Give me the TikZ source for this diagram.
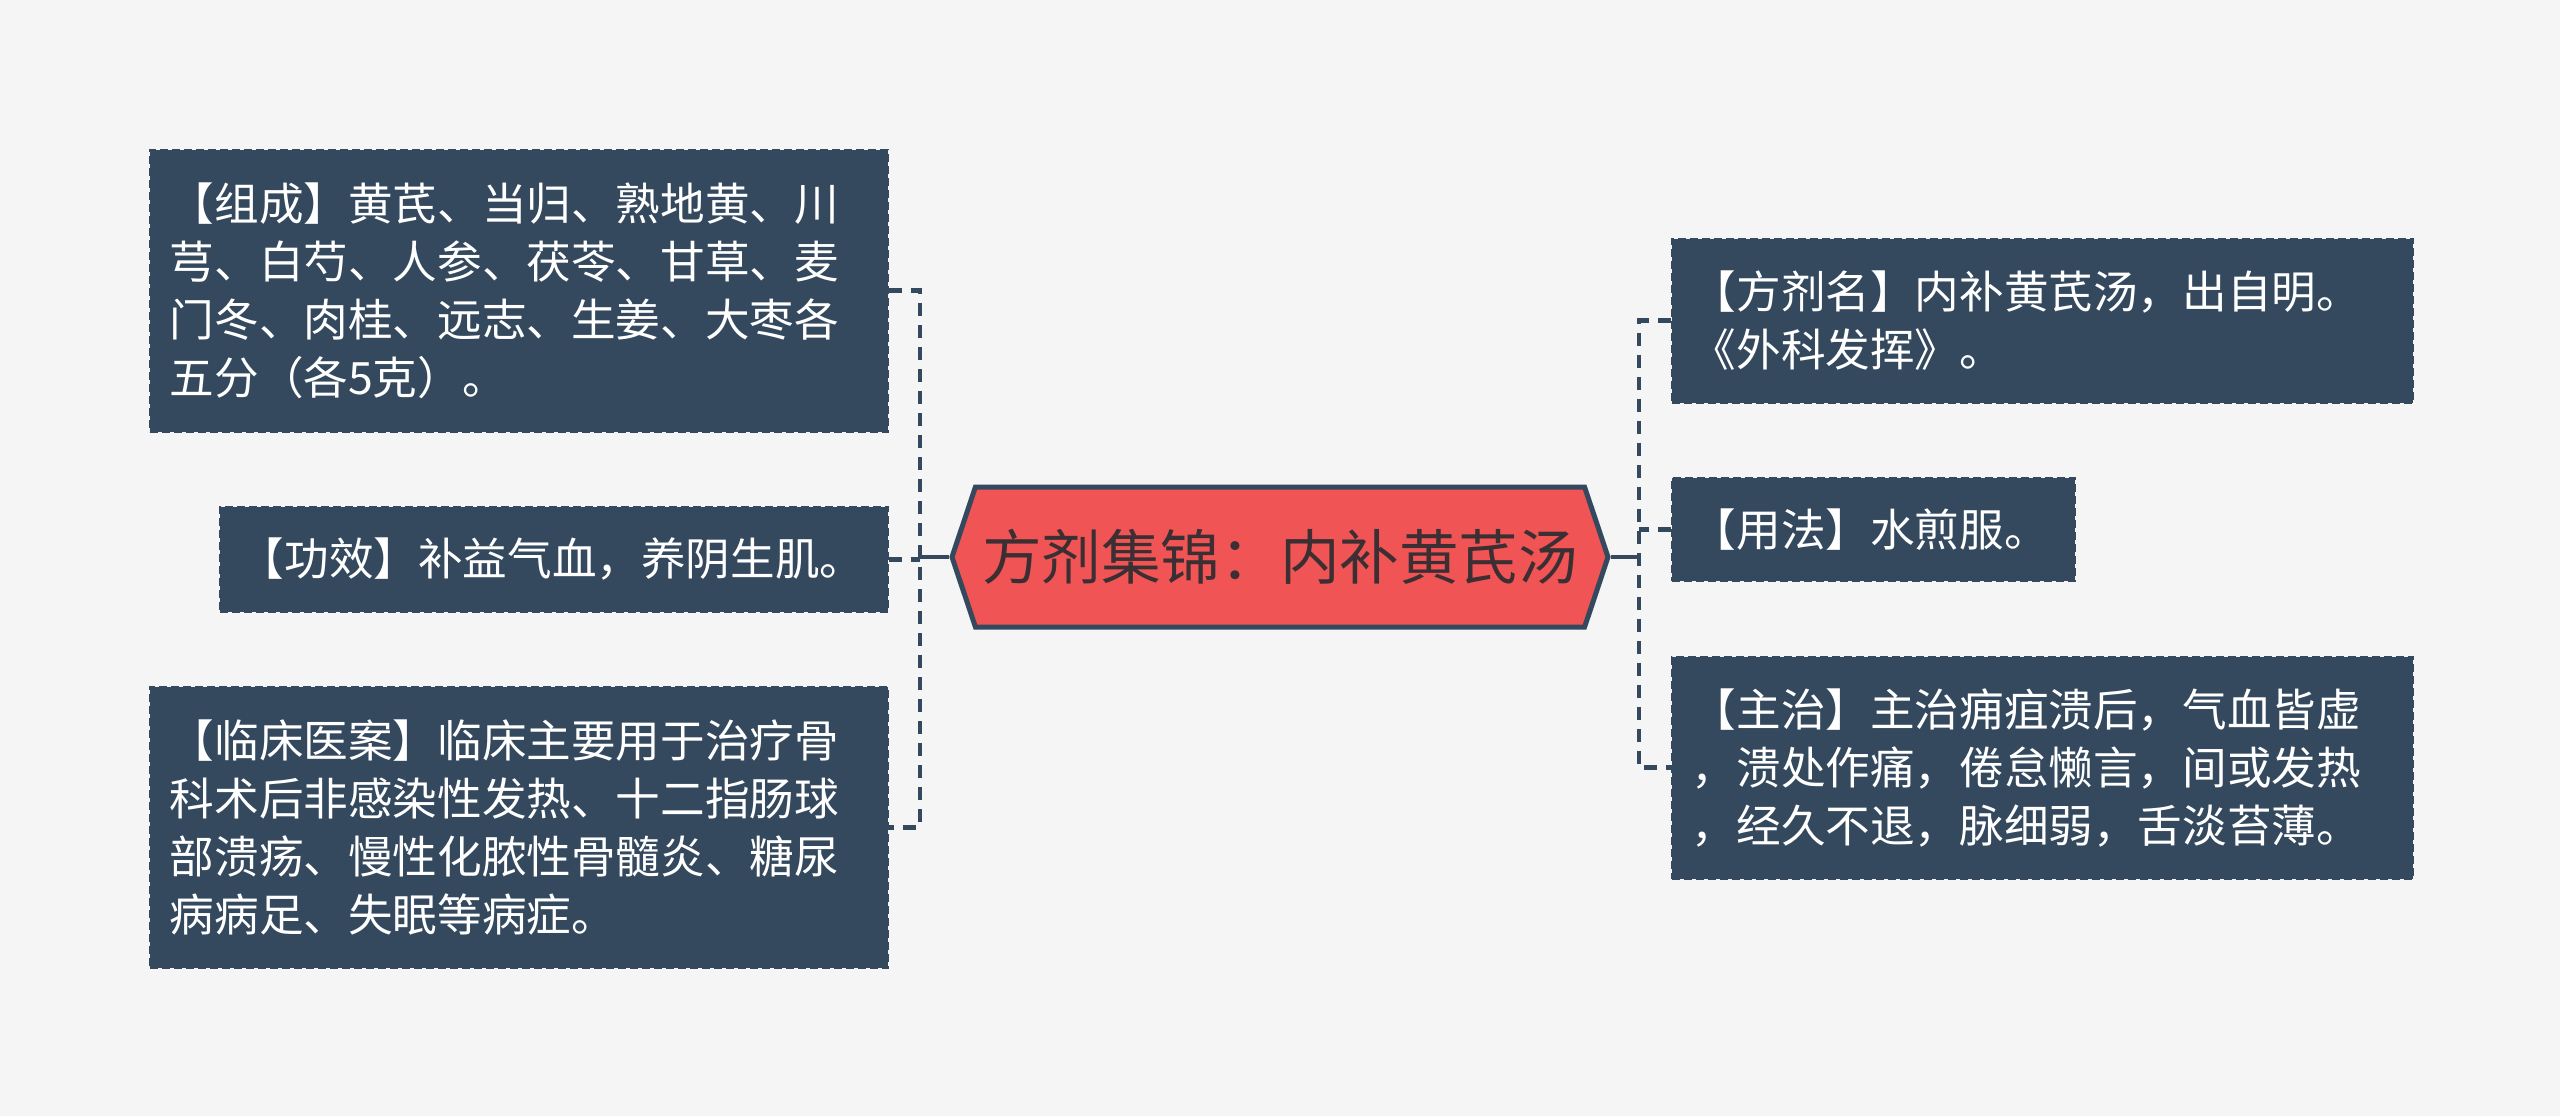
\documentclass[tikz,border=0pt]{standalone}
\usepackage{fontspec}
\newfontfamily\cjk{Noto Sans CJK SC}
\usepackage{tikz}
\usetikzlibrary{shapes.symbols}
\definecolor{navy}{HTML}{34495E}
\definecolor{hubred}{HTML}{F05454}
\definecolor{hubtext}{HTML}{3B2F33}
\definecolor{paper}{HTML}{F5F5F5}

\begin{document}
\begin{tikzpicture}[x=0.5pt,y=-0.5pt,
  leaf/.style={draw=navy,fill=navy,dash pattern=on 4pt off 2pt,line width=0.8pt,
    text=white,font=\cjk\fontsize{22.3pt}{29pt}\selectfont,
    align=left,inner xsep=10pt,inner ysep=0pt,anchor=north west},
  hub/.style={signal,signal to=west and east,signal pointer angle=143,
    draw=navy,line width=2.5pt,fill=hubred,text=hubtext,
    font=\cjk\fontsize{29.8pt}{34pt}\selectfont,
    minimum width=328pt,minimum height=70pt,inner sep=0pt},
  link/.style={navy,line width=2.4pt,dash pattern=on 6.5pt off 4.5pt},
  trunk/.style={navy,line width=2.4pt}]
  % Page
  \useasboundingbox (0,0) rectangle (2560,1116);
  \fill[paper] (0,0) rectangle (2560,1116);
  % Central topic
  \node[hub] (hub) at (1280,557) {方剂集锦：内补黄芪汤};
  % Left branch
  \node[leaf,text width=349pt,minimum height=141pt] (zucheng) at (149,149)
    {【组成】黄芪、当归、熟地黄、川\\芎、白芍、人参、茯苓、甘草、麦\\门冬、肉桂、远志、生姜、大枣各\\五分（各5克）。};
  \node[leaf,text width=314pt,minimum height=52.5pt] (gongxiao) at (219,506)
    {【功效】补益气血，养阴生肌。};
  \node[leaf,text width=349pt,minimum height=140.5pt] (linchuang) at (149,686)
    {【临床医案】临床主要用于治疗骨\\科术后非感染性发热、十二指肠球\\部溃疡、慢性化脓性骨髓炎、糖尿\\病病足、失眠等病症。};
  % Right branch
  \node[leaf,text width=350.5pt,minimum height=82pt] (fangji) at (1671,238)
    {【方剂名】内补黄芪汤，出自明。\\《外科发挥》。};
  \node[leaf,text width=181.5pt,minimum height=51.5pt] (yongfa) at (1671,477)
    {【用法】水煎服。};
  \node[leaf,text width=350.5pt,minimum height=111pt] (zhuzhi) at (1671,656)
    {【主治】主治痈疽溃后，气血皆虚\\，溃处作痛，倦怠懒言，间或发热\\，经久不退，脉细弱，舌淡苔薄。};
  % Connectors
  \coordinate (lbus) at (920,557);
  \coordinate (rbus) at (1639,557);
  \draw[trunk] (hub.west) -- (lbus);
  \draw[trunk] (hub.east) -- (rbus);
  \draw[link] (zucheng.east) -| (lbus) |- (linchuang.east);
  \draw[link] (gongxiao.east) -- (gongxiao.east -| lbus);
  \draw[link] (fangji.west) -| (rbus) |- (zhuzhi.west);
  \draw[link] (yongfa.west) -- (yongfa.west -| rbus);
\end{tikzpicture}
\end{document}
